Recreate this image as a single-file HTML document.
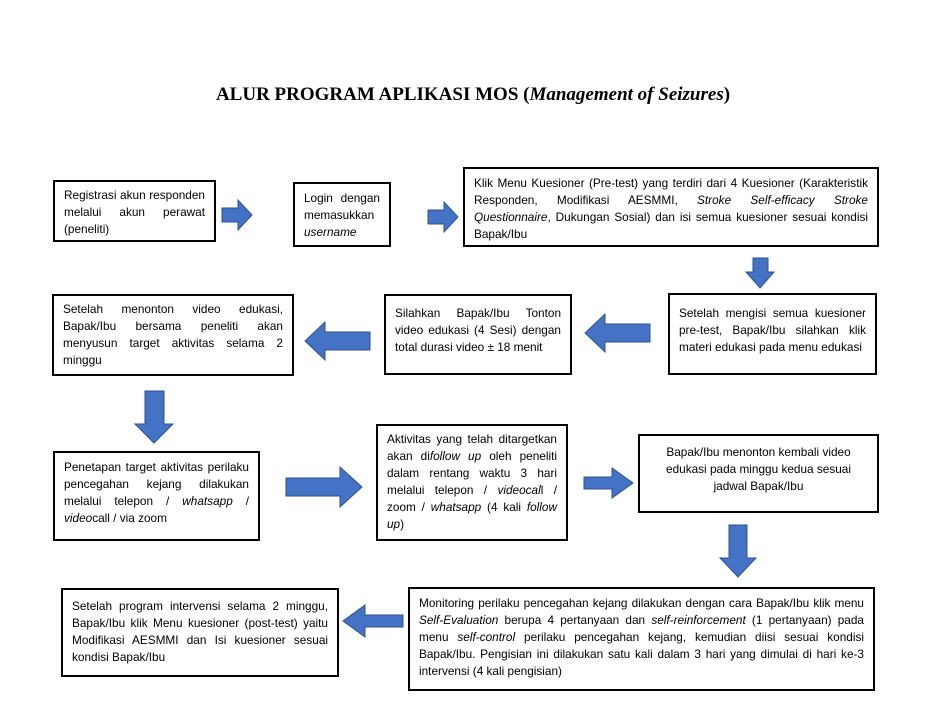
<!DOCTYPE html>
<html><head><meta charset="utf-8"><style>
body{margin:0;width:946px;height:727px;background:#fff;position:relative;overflow:hidden;font-family:"Liberation Sans",sans-serif;}
.t{position:absolute;left:0;width:946px;top:84px;text-align:center;font-family:"Liberation Serif",serif;font-weight:bold;font-size:19px;}
.b{position:absolute;border:2.5px solid #000;box-sizing:border-box;font-size:11.8px;line-height:17px;padding:6px 9px;text-align:justify;text-align-last:left;}
.c{text-align:center;text-align-last:center;}
svg{position:absolute;left:0;top:0;}
</style></head><body>
<div class="t">ALUR PROGRAM APLIKASI MOS (<i>Management of Seizures</i>)</div>

<div class="b" style="left:53px;top:180px;width:163px;height:62px;padding-top:5px">Registrasi akun responden melalui akun perawat (peneliti)</div>
<div class="b" style="left:293px;top:182px;width:98px;height:65px;padding-top:6px">Login dengan memasukkan <i>username</i></div>
<div class="b" style="left:463px;top:167px;width:416px;height:80px;padding-top:6px">Klik Menu Kuesioner (Pre-test) yang terdiri dari 4 Kuesioner (Karakteristik Responden, Modifikasi AESMMI, <i>Stroke Self-efficacy Stroke Questionnaire</i>, Dukungan Sosial) dan isi semua kuesioner sesuai kondisi Bapak/Ibu</div>
<div class="b" style="left:668px;top:293px;width:209px;height:82px;padding-top:10px">Setelah mengisi semua kuesioner pre-test, Bapak/Ibu silahkan klik materi edukasi pada menu edukasi</div>
<div class="b" style="left:384px;top:294px;width:188px;height:81px;padding-top:9px">Silahkan Bapak/Ibu Tonton video edukasi (4 Sesi) dengan total durasi video ± 18 menit</div>
<div class="b" style="left:52px;top:294px;width:242px;height:82px;padding-top:5px">Setelah menonton video edukasi, Bapak/Ibu bersama peneliti akan menyusun target aktivitas selama 2 minggu</div>
<div class="b" style="left:53px;top:451px;width:207px;height:90px;padding-top:6px">Penetapan target aktivitas perilaku pencegahan kejang dilakukan melalui telepon / <i>whatsapp</i> / <i>video</i>call / via zoom</div>
<div class="b" style="left:376px;top:424px;width:192px;height:117px;padding-top:5px">Aktivitas yang telah ditargetkan akan di<i>follow up</i> oleh peneliti dalam rentang waktu 3 hari melalui telepon / <i>videocal</i>l / zoom / <i>whatsapp</i> (4 kali <i>follow up</i>)</div>
<div class="b c" style="left:638px;top:434px;width:241px;height:79px;padding-top:8px">Bapak/Ibu menonton kembali video edukasi pada minggu kedua sesuai jadwal Bapak/Ibu</div>
<div class="b" style="left:408px;top:587px;width:467px;height:104px;padding-top:6px">Monitoring perilaku pencegahan kejang dilakukan dengan cara Bapak/Ibu klik menu <i>Self-Evaluation</i> berupa 4 pertanyaan dan <i>self-reinforcement</i> (1 pertanyaan) pada menu <i>self-control</i> perilaku pencegahan kejang, kemudian diisi sesuai kondisi Bapak/Ibu. Pengisian ini dilakukan satu kali dalam 3 hari yang dimulai di hari ke-3 intervensi (4 kali pengisian)</div>
<div class="b" style="left:61px;top:588px;width:278px;height:89px;padding-top:8px">Setelah program intervensi selama 2 minggu, Bapak/Ibu klik Menu kuesioner (post-test) yaitu Modifikasi AESMMI dan Isi kuesioner sesuai kondisi Bapak/Ibu</div>

<svg width="946" height="727">
<g fill="#4472c4" stroke="#2f528f" stroke-width="1">
<polygon points="222,208 238,208 238,200 252,215 238,230 238,222 222,222"/>
<polygon points="428,210 444,210 444,202 458,217 444,232 444,224 428,224"/>
<polygon points="753,258 768,258 768,272 774,272 760,288 746,272 753,272"/>
<polygon points="650,324 605,324 605,314 585,333 605,352 605,342 650,342"/>
<polygon points="370,332 325,332 325,322 305,341 325,360 325,350 370,350"/>
<polygon points="145,391 164,391 164,424 173,424 154,443 135,424 145,424"/>
<polygon points="286,478 340,478 340,467 362,487 340,507 340,496 286,496"/>
<polygon points="584,477 612,477 612,468 633,483 612,498 612,489 584,489"/>
<polygon points="729,525 747,525 747,558 756,558 738,577 720,558 729,558"/>
<polygon points="403,615 365,615 365,605 343,621 365,637 365,627 403,627"/>
</g>
</svg>
</body></html>
